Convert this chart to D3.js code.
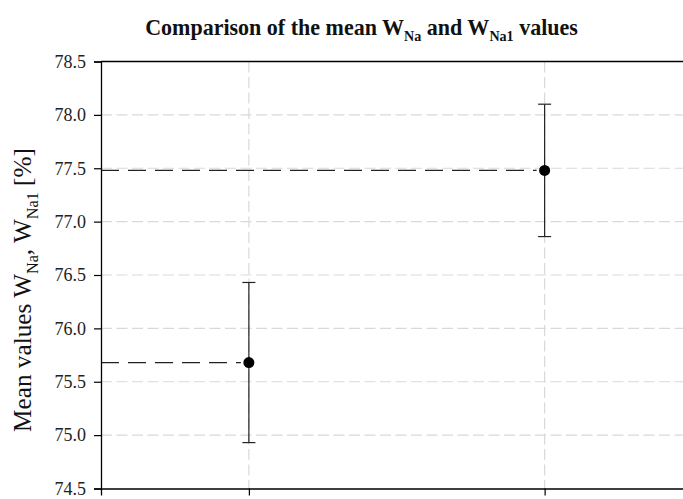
<!DOCTYPE html>
<html><head><meta charset="utf-8">
<script src="https://cdn.jsdelivr.net/npm/d3@7"></script>
<style>body{margin:0;background:#fff}svg{display:block}</style>
</head><body>
<svg id="c" width="683" height="499"></svg>
<script>
const categories = [1, 2];
const means = [75.68, 77.48];
const errors = [0.75, 0.62];
const yTicks = [74.5, 75.0, 75.5, 76.0, 76.5, 77.0, 77.5, 78.0, 78.5];

const pL = 101, pR = 692.5, pT = 61.5, pB = 488.5;
const svg = d3.select("#c");
const font = "'Liberation Serif', serif";

const x = d3.scaleLinear().domain([0.5, 2.5]).range([pL, pR]);
const y = d3.scaleLinear().domain([74.5, 78.5]).range([pB, pT]);

// grid
const grid = svg.append("g").attr("stroke", "#d9d9d9").attr("stroke-width", 1.2).attr("stroke-dasharray", "11,4.5");
grid.selectAll("line.h").data(yTicks.slice(1, -1)).join("line").attr("class", "h")
  .attr("x1", pL).attr("x2", pR).attr("y1", d => y(d)).attr("y2", d => y(d));
grid.selectAll("line.v").data(categories).join("line").attr("class", "v")
  .attr("x1", d => x(d)).attr("x2", d => x(d)).attr("y1", pT).attr("y2", pB);

// reference dashed lines
svg.append("g").selectAll("line").data(categories).join("line")
  .attr("x1", pL).attr("x2", d => x(d) - 8)
  .attr("y1", (d, i) => y(means[i])).attr("y2", (d, i) => y(means[i]))
  .attr("stroke", "#222").attr("stroke-width", 1.3).attr("stroke-dasharray", "18,9");

// error bars
const eb = svg.append("g").attr("stroke", "#222").attr("stroke-width", 1.2);
categories.forEach((c, i) => {
  const cx = x(c);
  eb.append("line").attr("x1", cx).attr("x2", cx).attr("y1", y(means[i] - errors[i])).attr("y2", y(means[i] + errors[i]));
  [means[i] - errors[i], means[i] + errors[i]].forEach(v => {
    eb.append("line").attr("x1", cx - 6.5).attr("x2", cx + 6.5).attr("y1", y(v)).attr("y2", y(v));
  });
});
svg.append("g").selectAll("circle").data(categories).join("circle")
  .attr("cx", d => x(d)).attr("cy", (d, i) => y(means[i])).attr("r", 5.5).attr("fill", "#000");

// axes
const yAxis = svg.append("g").attr("transform", `translate(${pL},0)`)
  .call(d3.axisLeft(y).tickValues(yTicks).tickFormat(d3.format(".1f")).tickSize(7).tickPadding(8));
const xAxis = svg.append("g").attr("transform", `translate(0,${pB})`)
  .call(d3.axisBottom(x).tickValues(categories).tickFormat("").tickSize(7));
[yAxis, xAxis].forEach(a => {
  a.select(".domain").attr("stroke", "#000").attr("stroke-width", 1.3);
  a.selectAll(".tick line").attr("stroke", "#000").attr("stroke-width", 1.2);
  a.selectAll("text").attr("font-family", font).attr("font-size", 18).attr("fill", "#222");
});
svg.append("line").attr("x1", pL).attr("x2", pR).attr("y1", pT).attr("y2", pT)
  .attr("stroke", "#000").attr("stroke-width", 1.3);

function subText(sel, parts, base, ratio) {
  parts.forEach(p => {
    if (p.sub) sel.append("tspan").attr("class", "sub").attr("dy", base * 0.28).text(p.t);
    else sel.append("tspan").attr("class", "main").attr("dy", sel.selectAll("tspan").size() && sel.select("tspan:last-child").classed("sub") ? -base * 0.28 : 0).text(p.t);
  });
}
function build(sel, parts, size, targetW) {
  sel.selectAll("tspan").remove();
  sel.attr("font-size", size);
  let prevSub = false;
  parts.forEach(p => {
    const ts = sel.append("tspan").text(p.t);
    if (p.sub) { ts.attr("font-size", size * 0.64).attr("dy", size * 0.28); prevSub = true; }
    else { ts.attr("dy", prevSub ? -size * 0.28 : 0); prevSub = false; }
  });
  const w = sel.node().getComputedTextLength();
  if (targetW && Math.abs(w - targetW) > 1) build(sel, parts, size * targetW / w, null);
}

// title
const titleParts = [{t: "Comparison of the mean W"}, {t: "Na", sub: true}, {t: " and W"}, {t: "Na1", sub: true}, {t: " values"}];
const t = svg.append("text").attr("x", 361.5).attr("y", 35).attr("text-anchor", "middle")
  .attr("font-family", font).attr("font-weight", "bold").attr("fill", "#111");
build(t, titleParts, 18.5, 433);

// y label
const ylParts = [{t: "Mean values W"}, {t: "Na", sub: true}, {t: ", W"}, {t: "Na1", sub: true}, {t: " [%]"}];
const yl = svg.append("text").attr("transform", "translate(31,290) rotate(-90)").attr("text-anchor", "middle")
  .attr("font-family", font).attr("fill", "#111");
build(yl, ylParts, 18, 284);
</script>
</body></html>
